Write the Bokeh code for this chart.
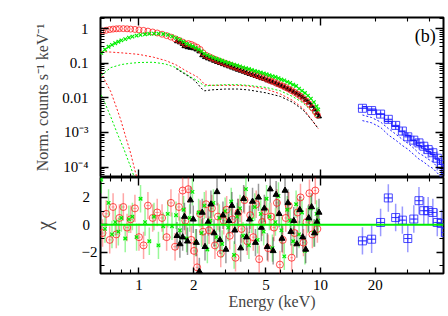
import numpy as np
from bokeh.plotting import figure
from bokeh.layouts import column
from bokeh.models import Range1d, FixedTicker, LogAxis, LinearAxis, Span, Label
from bokeh.embed import file_html
from bokeh.resources import INLINE

# ---------------- data ----------------
red_e_lo = [0.63, 0.66, 0.69, 0.72, 0.75, 0.78, 0.82, 0.86, 0.90, 0.95, 1.00, 1.06, 1.12, 1.19, 1.26,
            1.34, 1.42, 1.50, 1.58, 1.66, 1.74]
red_e_hi = [1.80, 1.87, 1.94, 2.01, 2.09, 2.17, 2.25, 2.34, 2.43, 2.52, 2.62, 2.72, 2.82, 2.93, 3.04,
            3.16, 3.28, 3.40, 3.53, 3.67, 3.81, 3.95, 4.10, 4.26, 4.42, 4.59, 4.77, 4.95, 5.14, 5.33,
            5.54, 5.75, 5.97, 6.19, 6.43, 6.68, 6.93, 7.19, 7.47, 7.75, 8.05, 8.36, 8.68, 9.01, 9.35,
            9.60]
red_f_lo = [0.85, 0.90, 0.94, 0.97, 0.99, 1.00, 1.00, 0.99, 0.97, 0.95, 0.92, 0.89, 0.85, 0.80, 0.75,
            0.69, 0.63, 0.57, 0.51, 0.46, 0.41]
red_f_hi = [0.36, 0.37, 0.35, 0.32, 0.29, 0.25, 0.20, 0.17, 0.155, 0.142, 0.130, 0.120, 0.111, 0.103,
            0.096, 0.089, 0.083, 0.077, 0.072, 0.067, 0.062, 0.058, 0.054, 0.050, 0.046, 0.043, 0.040,
            0.037, 0.034, 0.031, 0.029, 0.026, 0.024, 0.022, 0.020, 0.018, 0.0162, 0.0145, 0.0128,
            0.0112, 0.0096, 0.0081, 0.0066, 0.0052, 0.0040, 0.0032]
red_chi_lo = [-0.6, 0.8, -1.1, 1.3, -0.7, 0.5, 1.3, -0.2, 0.4, 1.2, -0.9, -1.5, 1.4, 0.5, 0.9,
              0.5, -0.9, 1.6, -1.6, 1.3, 2.5]
red_chi_hi = [0.3, 2.6, -1.1, -1.9, -3.1, 0.8, -0.5, 1.5, -0.4, 1.2, -1.5, 0.6, -2.1, 0.3, 1.1,
              -0.8, 0.4, -2.4, 0.9, -0.3, 1.8, -1.2, 0.7, -0.9, 1.5, -2.5, 0.2, 1.0, -1.7, 0.6,
              -0.2, 1.6, -2.9, -1.1, 0.5, 1.4, -2.4, -0.6, 0.9, 2.0, -1.3, 0.2, 2.3, -0.7, 2.5, -0.3]

green_e_lo = [0.62, 0.65, 0.68, 0.71, 0.74, 0.77, 0.80, 0.84, 0.88, 0.92, 0.97, 1.02, 1.08, 1.14, 1.21,
              1.28, 1.36, 1.44, 1.52, 1.60, 1.68, 1.76]
green_e_hi = [1.83, 1.90, 1.97, 2.05, 2.13, 2.21, 2.29, 2.38, 2.47, 2.57, 2.67, 2.77, 2.87, 2.98, 3.10,
              3.22, 3.34, 3.47, 3.60, 3.74, 3.88, 4.03, 4.18, 4.34, 4.50, 4.68, 4.86, 5.04, 5.23, 5.43,
              5.64, 5.86, 6.08, 6.31, 6.55, 6.80, 7.06, 7.33, 7.61, 7.90, 8.20, 8.52, 8.84, 9.18, 9.50,
              9.70]
green_f_lo = [0.20, 0.25, 0.30, 0.34, 0.38, 0.42, 0.46, 0.50, 0.55, 0.59, 0.63, 0.66, 0.69, 0.71, 0.72,
              0.72, 0.70, 0.66, 0.60, 0.54, 0.48, 0.42]
green_f_hi = [0.37, 0.34, 0.31, 0.28, 0.25, 0.22, 0.19, 0.172, 0.158, 0.146, 0.135, 0.126, 0.118, 0.110,
              0.103, 0.097, 0.091, 0.086, 0.081, 0.076, 0.072, 0.068, 0.064, 0.060, 0.057, 0.054, 0.051,
              0.048, 0.045, 0.042, 0.040, 0.037, 0.034, 0.032, 0.029, 0.027, 0.024, 0.022, 0.0185,
              0.0160, 0.0138, 0.0116, 0.0095, 0.0075, 0.0057, 0.0046]
green_chi_lo = [3.3, -0.3, 1.6, -0.7, 0.2, -0.5, 0.5, -1.0, 0.4, 0.6, -0.9, 1.9, 0.2, -1.2, 0.6,
                -1.5, -0.1, 0.8, -0.1, 0.7, -0.4, 1.1]
green_chi_hi = [-1.0, 0.5, 2.4, -1.3, 0.9, -0.6, 1.4, -1.8, 0.3, 1.6, -0.9, 0.5, -1.4, 1.0, -0.2,
                1.7, -2.2, 0.6, 1.2, -0.8, 2.6, -1.5, 0.4, 1.3, -1.1, 0.8, -0.5, 1.9, 0.6, -1.7,
                0.2, 2.1, -0.4, -2.3, 1.1, 0.3, -1.2, 1.5, -0.7, 0.9, -1.9, 0.4, 1.2, -0.6, 0.8, 0.3]

black_e = [1.62, 1.68, 1.74, 1.78, 1.85, 1.92, 1.99, 2.07, 2.15, 2.23, 2.31, 2.40, 2.49, 2.59, 2.69,
           2.79, 2.90, 3.01, 3.13, 3.25, 3.37, 3.50, 3.63, 3.77, 3.91, 4.06, 4.22, 4.38, 4.55, 4.72,
           4.90, 5.09, 5.28, 5.48, 5.69, 5.91, 6.13, 6.37, 6.61, 6.86, 7.12, 7.40, 7.68, 7.97, 8.28,
           8.60, 8.92, 9.26, 9.55, 9.80]
black_f = [0.43, 0.40, 0.36, 0.31, 0.29, 0.28, 0.27, 0.25, 0.22, 0.17, 0.15, 0.138, 0.128, 0.118, 0.109,
           0.101, 0.094, 0.087, 0.081, 0.075, 0.070, 0.065, 0.061, 0.057, 0.053, 0.049, 0.046, 0.043,
           0.040, 0.037, 0.035, 0.032, 0.030, 0.028, 0.026, 0.024, 0.022, 0.020, 0.0183, 0.0166,
           0.0150, 0.0134, 0.0118, 0.0103, 0.0088, 0.0073, 0.0059, 0.0046, 0.0036, 0.0029]
black_chi = [-0.8, -1.4, -0.9, 0.6, -1.2, 1.8, 0.4, -1.3, -3.4, 0.9, -1.6, 0.2, 1.5, -0.6, 2.4,
             -1.1, 0.7, -1.8, 0.3, 1.4, -0.4, 0.9, -1.7, 1.9, -0.9, 0.4, 1.7, -1.3, 2.0, -0.2,
             1.2, -1.6, 2.6, -1.9, 2.2, 0.8, -1.0, 2.5, 1.6, -0.5, 0.3, -1.4, 1.1, -0.9, -1.8,
             0.5, 1.3, -0.6, 0.2, 0.9]

blue_e = [17.0, 19.1, 21.4, 23.6, 25.9, 28.2, 30.2, 32.6, 34.8, 37.0, 39.1, 41.5, 43.9, 46.3, 48.7]
blue_f = [0.0050, 0.0043, 0.0034, 0.0024, 0.0016, 0.0011, 0.00075, 0.00060, 0.00050, 0.00040,
          0.00032, 0.00026, 0.00018, 0.00012, 0.00008]
blue_err = [0.0008, 0.0007, 0.0006, 0.0005, 0.0004, 0.0003, 0.00025, 0.0002, 0.00018, 0.00016,
            0.00014, 0.00012, 0.0001, 0.00008, 0.00006]
blue_chi = [-1.17, -1.05, 0.17, 1.96, 0.53, 0.34, -1.0, 0.42, 1.76, 1.03, 1.03, 0.9, 0.17, 0.1, -0.56]
blue_model = [0.0056, 0.0047, 0.0034, 0.0021, 0.0015, 0.00105, 0.00082, 0.00058, 0.00042, 0.00035,
              0.00028, 0.00023, 0.00017, 0.00012, 0.000085]
blue_c1 = [0.0032, 0.0027, 0.0020, 0.0013, 0.00090, 0.00063, 0.00049, 0.00035, 0.00025, 0.00021,
           0.00017, 0.00014, 0.00010, 0.000072, 0.000051]
blue_c2 = [0.0022, 0.0019, 0.0014, 0.00085, 0.00060, 0.00042, 0.00033, 0.00023, 0.00017, 0.00014,
           0.00011, 0.000092, 0.000068, 0.000048, 0.000034]

comp_e = [0.62, 0.7, 0.8, 0.9, 1.0, 1.2, 1.4, 1.6, 1.8, 1.9, 2.0, 2.1, 2.2, 2.3, 2.5, 3.0, 3.5, 4.0,
          5.0, 6.0, 7.0, 8.0, 9.0, 9.7]
red_comp = [0.22, 0.21, 0.20, 0.19, 0.18, 0.15, 0.12, 0.09, 0.062, 0.053, 0.046, 0.040, 0.032, 0.024,
            0.023, 0.023, 0.023, 0.022, 0.018, 0.013, 0.0085, 0.0050, 0.0022, 0.0013]
green_comp = [0.045, 0.075, 0.092, 0.10, 0.105, 0.107, 0.095, 0.075, 0.05, 0.042, 0.036, 0.031, 0.026,
              0.022, 0.023, 0.024, 0.024, 0.023, 0.020, 0.016, 0.011, 0.0072, 0.0040, 0.0025]
black_comp_e = [1.6, 1.8, 1.9, 2.0, 2.1, 2.2, 2.3, 2.5, 3.0, 3.5, 4.0, 5.0, 6.0, 7.0, 8.0, 9.0, 9.7]
black_comp = [0.07, 0.048, 0.04, 0.033, 0.026, 0.019, 0.016, 0.017, 0.018, 0.018, 0.017, 0.014, 0.011,
              0.0075, 0.0045, 0.0022, 0.0013]
red_soft_e = [0.62, 0.64, 0.70, 0.745, 0.79, 0.845, 0.90, 0.95, 0.98]
red_soft = [0.055, 0.037, 0.015, 0.006, 0.0025, 0.00075, 0.00025, 0.00008, 0.000045]
green_soft_e = [0.62, 0.64, 0.70, 0.76, 0.83, 0.90, 0.95]
green_soft = [0.012, 0.0085, 0.0028, 0.00093, 0.00031, 0.0001, 0.000045]

red_e, red_f, red_chi = red_e_lo + red_e_hi, red_f_lo + red_f_hi, red_chi_lo + red_chi_hi
green_e, green_f, green_chi = green_e_lo + green_e_hi, green_f_lo + green_f_hi, green_chi_lo + green_chi_hi

# ---------------- styling ----------------
FONT = "Liberation Serif"
RED, GREEN, BLACK, BLUE = "#ff2020", "#00ee00", "#000000", "#2020ff"

x_range = Range1d(0.614, 47.5)

top = figure(width=448, height=177, x_axis_type="log", y_axis_type="log",
             x_range=x_range, y_range=Range1d(5e-5, 2.1),
             output_backend="svg", toolbar_location=None,
             min_border_left=100, min_border_right=5, min_border_top=17, min_border_bottom=0)
bot = figure(width=448, height=139, x_axis_type="log",
             x_range=x_range, y_range=Range1d(-3.55, 3.45),
             output_backend="svg", toolbar_location=None,
             min_border_left=100, min_border_right=5, min_border_top=0, min_border_bottom=43)

top.add_layout(LogAxis(), "above")
top.add_layout(LogAxis(), "right")
bot.add_layout(LogAxis(), "above")
bot.add_layout(LinearAxis(), "right")

for p in (top, bot):
    p.grid.visible = False
    p.outline_line_color = "black"
    p.outline_line_width = 2
    p.outline_line_alpha = 1
    p.background_fill_color = "white"
    p.border_fill_color = "white"


def style(ax, major, minor, show=False, standoff=8, overrides=None, maj=8, mnr=4):
    ax.ticker = FixedTicker(ticks=major, minor_ticks=minor)
    ax.axis_line_color = None
    ax.major_tick_in = maj
    ax.major_tick_out = 0
    ax.minor_tick_in = mnr
    ax.minor_tick_out = 0
    ax.major_tick_line_color = "black"
    ax.minor_tick_line_color = "black"
    ax.major_tick_line_width = 1.4
    ax.minor_tick_line_width = 1.1
    if show:
        ax.major_label_text_font = FONT
        ax.major_label_text_font_size = "15px"
        ax.major_label_text_color = "black"
        ax.major_label_standoff = standoff
        if overrides:
            ax.major_label_overrides = overrides
    else:
        ax.major_label_text_font_size = "0px"
        ax.major_label_standoff = 0
        ax.major_label_text_alpha = 0


XMAJ = [1, 10]
XMIN = [0.7, 0.8, 0.9, 2, 3, 4, 5, 6, 7, 8, 9, 20, 30, 40]
YMAJ = [1e-4, 1e-3, 1e-2, 1e-1, 1.0]
YMIN = [k * 10.0 ** d for d in range(-5, 1) for k in range(2, 10)]

for ax in top.xaxis:
    style(ax, XMAJ, XMIN)
style(top.left[0], YMAJ, YMIN, show=True, standoff=12,
      overrides={1e-4: "10⁻⁴", 1e-3: "10⁻³", 1e-2: "0.01", 1e-1: "0.1", 1.0: "1"})
style(top.right[0], YMAJ, YMIN)
style(bot.above[0], XMAJ, XMIN)
style(bot.below[0], [1, 2, 5, 10, 20], [0.7, 0.8, 0.9, 3, 4, 6, 7, 8, 9, 30, 40], show=True,
      standoff=6, maj=6)
style(bot.left[0], [-2, 0, 2], [-3, -1, 1, 3], show=True, standoff=3, maj=7,
      overrides={2: "2\u2007", 0: "0\u2007", -2: "\u22122"})
style(bot.right[0], [-2, 0, 2], [-3, -1, 1, 3], maj=7)

ya = top.left[0]
ya.axis_label = "Norm. counts s⁻¹ keV⁻¹"
ya.axis_label_text_font = FONT
ya.axis_label_text_font_size = "16px"
ya.axis_label_text_font_style = "normal"
ya.axis_label_standoff = 8

ca = bot.left[0]
ca.axis_label = "χ"
ca.axis_label_text_font = FONT
ca.axis_label_text_font_size = "20px"
ca.axis_label_text_font_style = "normal"
ca.axis_label_standoff = 24

xa = bot.below[0]
xa.axis_label = "Energy (keV)"
xa.axis_label_text_font = FONT
xa.axis_label_text_font_size = "16px"
xa.axis_label_text_font_style = "normal"
xa.axis_label_standoff = 0


def bins(e):
    e = np.asarray(e, dtype=float)
    mid = np.sqrt(e[:-1] * e[1:])
    lo = np.concatenate([[e[0] ** 2 / mid[0]], mid])
    hi = np.concatenate([mid, [e[-1] ** 2 / mid[-1]]])
    return lo, hi


# ---------------- top panel ----------------
dash = "2 2"
top.line(comp_e, red_comp, line_color=RED, line_dash=dash, line_width=1)
top.line(comp_e, green_comp, line_color=GREEN, line_dash=dash, line_width=1)
top.line(black_comp_e, black_comp, line_color=BLACK, line_dash=dash, line_width=1)
top.line(red_soft_e, red_soft, line_color=RED, line_dash=dash, line_width=1)
top.line(green_soft_e, green_soft, line_color=GREEN, line_dash=dash, line_width=1)

top.line(blue_e, blue_c1, line_color=BLUE, line_dash=dash, line_width=1)
top.line(blue_e, blue_c2, line_color=BLUE, line_dash=dash, line_width=1)
top.step(blue_e, blue_model, mode="center", line_color=BLUE, line_width=1.2)

bf = np.array(blue_f)
be = np.array(blue_err)
blo, bhi = bins(blue_e)
top.segment(blue_e, bf - be, blue_e, bf + be, line_color=BLUE, line_alpha=0.45, line_width=1.5)
top.segment(blo, bf, bhi, bf, line_color=BLUE, line_alpha=0.6, line_width=1)
top.scatter(blue_e, blue_f, marker="square_cross", size=8, line_color=BLUE, fill_color=None,
            line_alpha=0.8)

top.scatter(black_e, black_f, marker="triangle", size=5, line_color=BLACK, fill_color=BLACK)
top.scatter(red_e, red_f, marker="circle", size=6, line_color=RED, fill_color=None, line_alpha=0.8)
top.scatter(green_e, green_f, marker="x", size=5, line_color=GREEN, line_width=1.2)

top.add_layout(Label(x=43, y=0.62, text="(b)", text_align="right", text_baseline="middle",
                     text_font=FONT, text_font_size="18px", text_color="black"))

# ---------------- residual panel ----------------
def resid(e, chi, color, alpha):
    c = np.array(chi)
    lo, hi = bins(e)
    bot.segment(e, c - 1, e, c + 1, line_color=color, line_alpha=alpha, line_width=1.5)
    bot.segment(lo, c, hi, c, line_color=color, line_alpha=alpha, line_width=1)


resid(red_e, red_chi, RED, 0.4)
resid(green_e, green_chi, GREEN, 0.4)
resid(black_e, black_chi, BLACK, 0.4)
resid(blue_e, blue_chi, BLUE, 0.45)

bot.scatter(red_e, red_chi, marker="circle", size=7, line_color=RED, fill_color=None, line_alpha=0.8)
bot.scatter(green_e, green_chi, marker="x", size=5, line_color=GREEN, line_width=1.2)
bot.scatter(black_e, black_chi, marker="triangle", size=6, line_color=BLACK, fill_color=BLACK)
bot.scatter(blue_e, blue_chi, marker="square_cross", size=8, line_color=BLUE, fill_color=None,
            line_alpha=0.8)

bot.add_layout(Span(location=0, dimension="width", line_color=GREEN, line_width=2))

layout = column(top, bot)
open("out.html", "w").write(file_html(layout, INLINE))
